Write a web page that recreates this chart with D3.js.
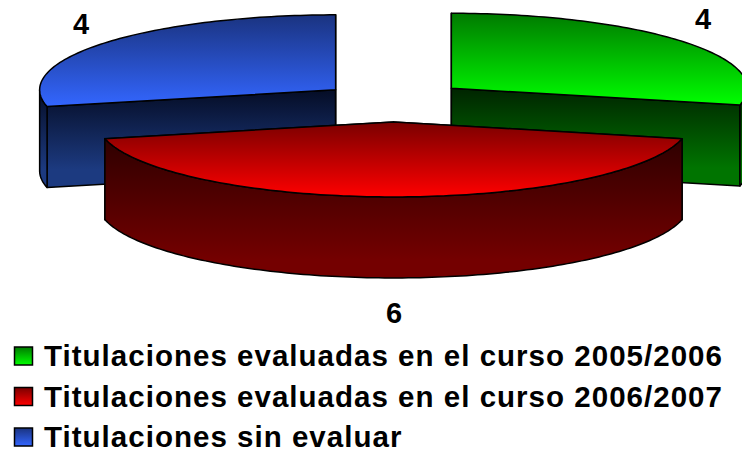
<!DOCTYPE html>
<html>
<head>
<meta charset="utf-8">
<script src="https://cdnjs.cloudflare.com/ajax/libs/d3/7.8.5/d3.min.js"></script>
<style>
html, body { margin: 0; padding: 0; background: #fff; overflow: hidden; }
svg { display: block; }
text { font-family: "Liberation Sans", Arial, sans-serif; font-weight: bold; fill: #000; }
</style>
</head>
<body>
<svg width="742" height="452"></svg>
<script>
const categories = [
	"Titulaciones evaluadas en el curso 2005/2006",
	"Titulaciones evaluadas en el curso 2006/2007",
	"Titulaciones sin evaluar"
];
const values = [4, 6, 4];
const topColors = [["#007a00", "#00ff00"], ["#7a0000", "#ff0000"], ["#1a3380", "#3366ff"]];
const wallColors = [["#002400", "#007400"], ["#2e0000", "#740000"], ["#050d26", "#1c3a80"]];

const width = 742, height = 452;
const cx = 393.5, cy = 101.7;   // pie centre before exploding
const rx = 296, ry = 75, depth = 81;
const explodeX = 0.25, explodeY = 0.27;

const svg = d3.select("svg");
const defs = svg.append("defs");

function gradient(id, colors, y1, y2) {
	const g = defs.append("linearGradient")
		.attr("id", id)
		.attr("gradientUnits", "userSpaceOnUse")
		.attr("x1", 0).attr("x2", 0)
		.attr("y1", y1).attr("y2", y2);
	g.append("stop").attr("offset", 0).attr("stop-color", colors[0]);
	g.append("stop").attr("offset", 1).attr("stop-color", colors[1]);
}

const pie = d3.pie().sort(null).value(d => d.value);
const slices = pie(values.map((value, i) => ({value: value, i: i})));

const line = d3.line();

function pt(o, a, dy) {
	return [o[0] + rx * Math.sin(a), o[1] - ry * Math.cos(a) + (dy || 0)];
}

function arcPoints(o, a0, a1, dy) {
	const n = Math.max(2, Math.ceil((a1 - a0) / 0.02));
	return d3.range(n + 1).map(k => pt(o, a0 + (a1 - a0) * k / n, dy));
}

const clip = svg.append("g");

// back slices first, the big front one on top
[2, 0, 1].forEach(function(idx) {
	const s = slices[idx];
	const mid = (s.startAngle + s.endAngle) / 2;
	const o = [
		cx + explodeX * rx * Math.sin(mid),
		cy - explodeY * ry * Math.cos(mid) - Math.sin(mid)
	];
	const a0 = s.startAngle, a1 = s.endAngle;
	const g = clip.append("g");

	const botTop = o[1] - ry * Math.cos(a1 > Math.PI ? a0 : a1);
	gradient("top" + idx, topColors[idx], o[1] - (idx == 1 ? 0 : ry), idx == 1 ? o[1] + ry : botTop);
	gradient("wall" + idx, wallColors[idx], idx == 1 ? botTop : o[1], (idx == 1 ? o[1] + ry : botTop) + depth - 18);

	// radial faces
	[a0, a1].forEach(function(a) {
		const p = pt(o, a);
		const q = [
			o,
			p,
			[p[0], p[1] + depth],
			[o[0], o[1] + depth]
		];
		g.append("path")
			.attr("d", line(q) + "Z")
			.attr("fill", "url(#wall" + idx + ")")
			.attr("stroke", "#000")
			.attr("stroke-width", 1.5)
			.attr("stroke-linejoin", "round");
	});

	// outer wall, only the part turned towards us
	const w0 = Math.max(a0, Math.PI / 2), w1 = Math.min(a1, Math.PI * 1.5);
	if (w1 > w0) {
		const upper = arcPoints(o, w0, w1);
		const lower = arcPoints(o, w0, w1, depth).reverse();
		g.append("path")
			.attr("d", line(upper.concat(lower)) + "Z")
			.attr("fill", "url(#wall" + idx + ")")
			.attr("stroke", "#000")
			.attr("stroke-width", 1.5)
			.attr("stroke-linejoin", "round");
	}

	// top
	g.append("path")
		.attr("d", line([o].concat(arcPoints(o, a0, a1))) + "Z")
		.attr("fill", "url(#top" + idx + ")")
		.attr("stroke", "#000")
		.attr("stroke-width", 1.5)
		.attr("stroke-linejoin", "round");
});

// data labels
const labelX = d3.scaleOrdinal().domain([0, 1, 2]).range([703, 394, 81]);
const labelY = d3.scaleOrdinal().domain([0, 1, 2]).range([29, 323, 34]);
svg.selectAll("text.value")
	.data(slices)
	.enter()
	.append("text")
	.attr("class", "value")
	.attr("x", (d, i) => labelX(i))
	.attr("y", (d, i) => labelY(i))
	.attr("text-anchor", "middle")
	.attr("font-size", 29)
	.text(d => d.value);

// legend
const legendY = d3.scalePoint().domain(d3.range(categories.length)).range([356, 437]);
const legend = svg.selectAll("g.legend")
	.data(categories)
	.enter()
	.append("g")
	.attr("class", "legend");

categories.forEach(function(c, i) {
	gradient("leg" + i, topColors[i], legendY(i) - 9, legendY(i) + 9);
});

legend.append("rect")
	.attr("x", 14.5)
	.attr("y", (d, i) => legendY(i) - 9)
	.attr("width", 18)
	.attr("height", 18)
	.attr("fill", (d, i) => "url(#leg" + i + ")")
	.attr("stroke", "#000")
	.attr("stroke-width", 1.5);

legend.append("text")
	.attr("x", 44)
	.attr("y", (d, i) => legendY(i) + 10)
	.attr("font-size", 29.5)
	.attr("letter-spacing", 1.02)
	.text(d => d);
</script>
</body>
</html>
